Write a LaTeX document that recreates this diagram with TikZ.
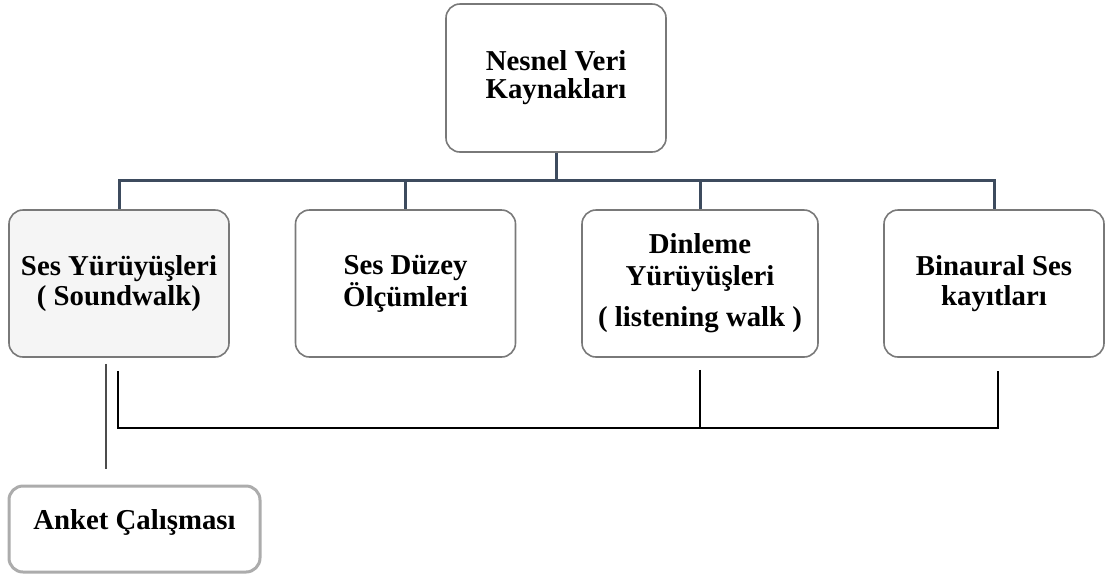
\documentclass[tikz,border=0pt]{standalone}
\usepackage{fontspec}
\setmainfont{Liberation Serif}
\usetikzlibrary{calc}
\tikzset{
  box/.style={draw=gray!95!black,line width=0.8pt,rounded corners=7pt,fill=white,align=center,
    minimum width=110pt,minimum height=73.5pt,inner sep=0pt,
    font=\bfseries\fontsize{14.4}{15}\selectfont},
  bus/.style={draw={rgb,255:red,61;green,75;blue,94},line width=1.5pt},
  link/.style={draw=black,line width=0.8pt},
}
\begin{document}
\begin{tikzpicture}[x=0.5pt,y=-0.5pt]
\useasboundingbox (0,0) rectangle (1106,585);
\node[box,minimum height=74pt] (kaynak) at (556,78) {Nesnel Veri\\[-1pt]Kaynakları};
\node[box,fill=gray!8] (ses) at (119,283.5) {Ses Yürüyüşleri\\( Soundwalk)};
\node[box] (duzey) at (405.5,283.5) {Ses Düzey\\Ölçümleri};
\node[box,minimum width=118pt] (dinleme) at (700,283.5) {Dinleme\\[1pt]Yürüyüşleri\\[5.5pt]( listening walk )};
\node[box] (binaural) at (994,283.5) {Binaural Ses\\kayıtları};
\node[box,draw=gray!65,line width=1.5pt,minimum width=125.5pt,minimum height=43pt] (anket) at (134.5,529) {Anket Çalışması\\[-5pt]\mbox{}};
\draw[bus] (kaynak.south) -- ++(0,29);
\draw[bus] (ses.north) -- ++(0,-29) -| (binaural.north);
\draw[bus] (duzey.north) -- ++(0,-29);
\draw[bus] (dinleme.north) -- ++(0,-29);
\draw[link] ($(ses.south)+(-1,13)$) |- ($(binaural.south)+(4,70)$) -- ++(0,-57);
\draw[link] ($(dinleme.south)+(0,12)$) -- ++(0,58);
\draw[link,draw=black!70] ($(ses.south)+(-13,6)$) -- ($(anket.north)+(-28.5,-16)$);
\end{tikzpicture}
\end{document}
